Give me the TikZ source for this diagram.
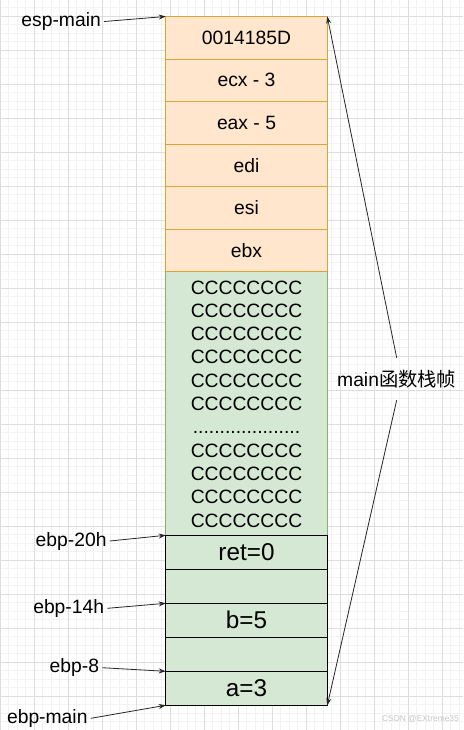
\documentclass[tikz,border=0pt]{standalone}
\usepackage{fontspec}
\setmainfont{Liberation Sans}
\newfontfamily\cjk{Noto Sans CJK SC}
\usetikzlibrary{positioning,arrows.meta}
\definecolor{ofill}{HTML}{FFE6CC}
\definecolor{oline}{HTML}{DBA33C}
\definecolor{gfill}{HTML}{D5E8D4}
\definecolor{gline}{HTML}{82B366}
\definecolor{gridmin}{HTML}{F2F2F2}
\definecolor{gridmaj}{HTML}{DDDDDD}
\newcommand\bigfont{\fontsize{19.3}{23}\selectfont}
\newcommand\hugefont{\fontsize{24.3}{28}\selectfont}
\newcommand\dotrow{....................}
\tikzset{
	stackcell/.style={draw,line width=0.8pt,minimum width=161.6pt,outer sep=0pt,inner sep=0pt,font=\bigfont},
	ocell/.style={stackcell,fill=ofill,draw=oline,minimum height=42.5pt},
	bcell/.style={stackcell,fill=gfill,draw=black,minimum height=34pt,font=\hugefont},
	gblock/.style={stackcell,fill=gfill,draw=gline,minimum height=263.8pt},
	lbl/.style={font=\bigfont,inner xsep=3pt,inner ysep=2pt},
	ptr/.style={draw=black!85,line width=0.8pt,-{Stealth[length=7pt,width=5pt]}}
}

\begin{document}
\begin{tikzpicture}[x=1pt,y=-1pt]
	\useasboundingbox (0,0) rectangle (463,730);
	\fill[white] (0,0) rectangle (463,730);
	\foreach \k in {0,...,54} \draw[gridmin,line width=0.7pt] ({0.3+8.5*\k},0) -- ({0.3+8.5*\k},730);
	\foreach \k in {0,...,84} \draw[gridmin,line width=0.7pt] (0,{7.8+8.5*\k}) -- (463,{7.8+8.5*\k});
	\foreach \k in {0,...,13} \draw[gridmaj,line width=0.8pt] ({0.3+34*\k},0) -- ({0.3+34*\k},730);
	\foreach \k in {0,...,20} \draw[gridmaj,line width=0.8pt] (0,{16.3+34*\k}) -- (463,{16.3+34*\k});

	\node[ocell] (o1) at (246.5,37.75) {0014185D};
	\node[ocell,below=0pt of o1] (o2) {ecx - 3};
	\node[ocell,below=0pt of o2] (o3) {eax - 5};
	\node[ocell,below=0pt of o3] (o4) {edi};
	\node[ocell,below=0pt of o4] (o5) {esi};
	\node[ocell,below=0pt of o5] (o6) {ebx};
	\node[gblock,below=0pt of o6] (g) {};
	\draw[oline,line width=0.8pt] (o6.south west) -- (o6.south east);
	\node[bcell,below=0pt of g] (b1) {ret=0};
	\node[bcell,below=0pt of b1] (b2) {};
	\node[bcell,below=0pt of b2] (b3) {b=5};
	\node[bcell,below=0pt of b3] (b4) {};
	\node[bcell,below=0pt of b4] (b5) {a=3};

	\foreach \t [count=\i from 0] in {CCCCCCCC,CCCCCCCC,CCCCCCCC,CCCCCCCC,CCCCCCCC,CCCCCCCC,\dotrow,CCCCCCCC,CCCCCCCC,CCCCCCCC,CCCCCCCC}
		\node[lbl,anchor=base] (row\i) at (246.5,{294+23.3*\i}) {\t};

	\node[lbl,anchor=base east] (espmain) at (104,26.5) {esp-main};
	\node[lbl,anchor=base east] (ebp20) at (109.7,546) {ebp-20h};
	\node[lbl,anchor=base east] (ebp14) at (107.3,613.3) {ebp-14h};
	\node[lbl,anchor=base east] (ebp8) at (102.3,672.7) {ebp-8};
	\node[lbl,anchor=base east] (ebpmain) at (90.7,723.3) {ebp-main};
	\node[lbl,inner ysep=12pt] (frame) at (396.7,379) {main{\cjk 函数栈帧}};
	\node[font=\fontsize{8.4}{10}\selectfont,text=black!22,anchor=east,inner sep=0pt] (mark) at (459,719) {CSDN @EXtreme35};

	\draw[ptr] (espmain.east) -- (o1.north west);
	\draw[ptr] (ebp20.east) -- (b1.north west);
	\draw[ptr] (ebp14.east) -- (b3.north west);
	\draw[ptr] (ebp8.east) -- (b5.north west);
	\draw[ptr] (ebpmain.east) -- (b5.south west);
	\draw[ptr] (frame.north) -- (o1.north east);
	\draw[ptr] (frame.south) -- (b5.south east);
\end{tikzpicture}
\end{document}
